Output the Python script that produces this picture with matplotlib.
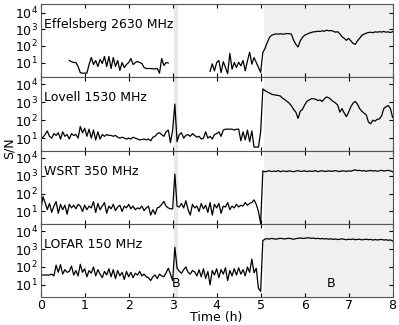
import numpy as np
import matplotlib
matplotlib.use("Agg")
import matplotlib.pyplot as plt

# log10(S/N) sampled every 0.05 h from 0 to 8 h (one row = 0.5 h)
nan = np.nan
effelsberg = [
    nan, nan, nan, nan, nan, nan, nan, nan, nan, nan,
    nan, nan, nan, 1.12, 1.05, 1.0, 1.0, 0.76, 0.39, 0.36,
    0.36, 0.36, 0.88, 1.3, 0.88, 1.12, 0.76, 1.18, 0.94, 1.36,
    0.76, 1.36, 0.64, 1.3, 0.76, 1.12, 0.52, 1.0, 0.7, 0.88,
    1.0, 1.24, 0.88, 1.0, 1.06, 1.0, 0.94, 0.7, 0.64, 0.64,
    0.64, 0.62, 0.62, 0.64, 0.36, 1.24, 0.82, 1.0, 0.97, nan,
    nan, nan, nan, nan, nan, nan, nan, nan, nan, nan,
    nan, nan, nan, nan, nan, nan, nan, 0.47, 0.92, 0.5,
    1.0, 1.12, 0.39, 1.05, 0.7, 0.33, 1.55, 0.6, 1.0, 0.7,
    1.02, 0.8, 1.12, 0.5, 1.1, 1.62, 0.9, 1.3, 1.0, 0.7,
    0.41, 1.6, 1.85, 2.2, 2.5, 2.64, 2.68, 2.72, 2.7, 2.73,
    2.7, 2.72, 2.74, 2.73, 2.7, 2.33, 2.1, 1.93, 2.3, 2.5,
    2.64, 2.7, 2.76, 2.8, 2.84, 2.85, 2.88, 2.86, 2.9, 2.88,
    2.94, 2.9, 2.92, 2.88, 2.82, 2.85, 2.72, 2.55, 2.45, 2.33,
    2.45, 2.3, 2.15, 2.09, 2.3, 2.45, 2.64, 2.7, 2.76, 2.8,
    2.82, 2.79, 2.84, 2.82, 2.85, 2.83, 2.86, 2.82, 2.84, 2.8,
    2.85]
lovell = [
    0.95, 1.05, 1.2, 1.4, 1.1, 1.0, 1.25, 1.15, 1.3, 0.95,
    1.35, 1.1, 1.2, 0.95, 1.25, 1.15, 1.2, 1.0, 1.65, 1.3,
    1.55, 1.1, 1.5, 1.0, 1.45, 0.9, 1.35, 0.95, 1.2, 1.1,
    1.2, 1.15, 1.15, 1.1, 1.15, 1.05, 1.0, 1.05, 1.0, 0.95,
    1.0, 0.95, 1.05, 1.0, 0.95, 0.9, 0.92, 0.95, 0.9, 0.95,
    0.85, 1.05, 1.1, 1.25, 1.3, 1.2, 1.1, 1.35, 1.45, 0.75,
    1.45, 2.9, 0.8, 1.2, 1.3, 1.0, 1.15, 1.2, 1.1, 1.25,
    1.15, 1.05, 1.1, 0.95, 1.0, 1.35, 1.0, 1.1, 0.95, 1.2,
    1.25, 1.35, 1.1, 1.45, 1.5, 1.5, 1.5, 1.5, 1.45, 1.5,
    1.5, 0.85, 1.35, 0.9, 1.45, 0.8, 1.4, 0.5, 0.5, 0.5,
    1.35, 3.75, 3.65, 3.58, 3.52, 3.45, 3.42, 3.4, 3.38, 3.35,
    3.22, 3.15, 3.05, 2.95, 2.8, 2.6, 2.45, 2.1, 2.5, 2.6,
    2.85, 3.05, 3.12, 3.2, 3.2, 3.17, 3.1, 3.13, 3.05, 3.2,
    3.3, 3.25, 3.15, 3.05, 2.97, 2.85, 2.45, 2.65, 2.4, 2.2,
    2.45, 2.75, 2.95, 3.05, 2.9, 2.65, 2.5, 2.4, 2.3, 1.9,
    1.8, 2.0, 1.95, 2.05, 2.07, 2.25, 2.65, 2.75, 2.82, 2.65,
    2.15]
wsrt = [
    1.0, 1.83, 1.5, 1.1, 1.45, 0.95, 1.3, 1.55, 0.9, 1.4,
    1.1, 1.35, 0.85, 1.4, 1.2, 1.35, 1.15, 1.4, 1.3, 1.0,
    1.35, 1.1, 1.3, 1.2, 1.55, 0.95, 1.45, 1.1, 1.3, 1.5,
    0.9, 1.3, 1.15, 1.4, 1.05, 1.25, 1.35, 1.0, 1.3, 1.2,
    1.4, 1.15, 1.3, 1.1, 1.2, 1.15, 1.3, 1.05, 1.2, 1.3,
    0.8, 1.1, 0.85, 1.2, 1.25, 1.4, 1.56, 1.3, 1.2, 1.15,
    1.15, 3.09, 1.3, 1.25, 1.45, 1.2, 1.6, 1.1, 0.8, 1.4,
    1.2, 1.3, 1.0, 1.45, 1.15, 1.35, 0.95, 1.5, 0.8, 1.4,
    1.2, 1.45, 0.9, 1.3, 1.25, 1.5, 1.1, 1.3, 1.2, 1.4,
    1.25, 1.35, 1.3, 1.5, 1.35, 1.45, 1.5, 1.65, 1.4, 1.0,
    0.33, 3.26, 3.22, 3.25, 3.27, 3.23, 3.25, 3.24, 3.28, 3.22,
    3.26, 3.25, 3.23, 3.27, 3.24, 3.22, 3.26, 3.28, 3.24, 3.25,
    3.27, 3.23, 3.26, 3.24, 3.25, 3.28, 3.22, 3.26, 3.27, 3.24,
    3.25, 3.27, 3.24, 3.26, 3.28, 3.25, 3.23, 3.27, 3.26, 3.24,
    3.27, 3.25, 3.29, 3.33, 3.28, 3.3, 3.26, 3.28, 3.25, 3.27,
    3.29, 3.26, 3.28, 3.25, 3.27, 3.3, 3.26, 3.28, 3.3, 3.27,
    3.22]
lofar = [
    1.55, 1.55, 1.55, 1.55, 1.55, 1.6, 1.5, 2.1, 1.7, 2.13,
    1.6, 1.85, 1.7, 1.75, 2.05, 1.55, 1.8, 1.5, 2.15, 1.7,
    1.9, 1.45, 1.8, 1.65, 2.0, 1.5, 1.85, 1.6, 1.4, 1.75,
    1.55, 1.9, 1.45, 1.85, 1.35, 1.8, 1.5, 1.7, 1.3, 1.75,
    1.45, 1.7, 1.4, 1.65, 1.55, 1.75, 1.5, 1.6, 1.45, 1.4,
    1.24, 1.45, 1.55, 1.35, 1.6, 1.5, 1.45, 1.67, 1.93, 1.6,
    1.24, 3.1, 1.93, 1.76, 1.65, 1.85, 2.0, 1.7, 1.6, 1.8,
    1.72, 1.5, 1.84, 1.45, 1.9, 1.35, 1.75, 1.0, 1.8, 1.55,
    1.9, 1.4, 1.85, 1.6, 1.95, 1.24, 1.8, 1.5, 1.9, 1.55,
    1.95, 1.6, 1.85, 1.5, 2.0, 1.7, 2.44, 1.67, 1.93, 0.81,
    0.64, 3.47, 3.56, 3.58, 3.55, 3.6, 3.57, 3.55, 3.58, 3.6,
    3.58, 3.56, 3.59, 3.6, 3.57, 3.55, 3.58, 3.6, 3.62, 3.59,
    3.6, 3.62, 3.63, 3.6, 3.61, 3.58, 3.6, 3.57, 3.59, 3.56,
    3.58, 3.55, 3.57, 3.54, 3.56, 3.53, 3.55, 3.57, 3.54, 3.52,
    3.55, 3.53, 3.56, 3.52, 3.54, 3.55, 3.51, 3.53, 3.55, 3.52,
    3.54, 3.5, 3.53, 3.51, 3.52, 3.54, 3.5, 3.52, 3.49, 3.51,
    3.45]

labels = ["Effelsberg 2630 MHz", "Lovell 1530 MHz", "WSRT 350 MHz", "LOFAR 150 MHz"]
series = [effelsberg, lovell, wsrt, lofar]
ylims = [(1.3, 3.3e4), (2.0, 2.5e4), (2.0, 2.5e4), (2.0, 2.5e4)]
b_short = (3.03, 3.13)
b_long = (5.08, 8.0)

t = np.arange(161) * 0.05

plt.rcParams['font.family'] = 'DejaVu Sans'
plt.rcParams['font.size'] = 9
fig, axes = plt.subplots(4, 1, sharex=True, figsize=(3.99, 3.25), dpi=100)
fig.subplots_adjust(left=0.102, right=0.984, bottom=0.085, top=0.988, hspace=0)

for ax, name, vals, yl in zip(axes, labels, series, ylims):
    ax.axvspan(b_short[0], b_short[1], color="#e8e8e8", lw=0, zorder=0)
    ax.axvspan(b_long[0], b_long[1], color="#f0f0f0", lw=0, zorder=0)
    ax.plot(t, 10 ** np.array(vals), color="k", lw=0.9)
    ax.set_yscale("log")
    ax.set_ylim(yl)
    ax.set_xlim(0, 8)
    ax.set_yticks([10, 100, 1000, 10000])
    ax.yaxis.set_minor_locator(matplotlib.ticker.NullLocator())
    ax.tick_params(direction="in", top=True, right=True, length=3, labelsize=9)
    ax.tick_params(axis="y", pad=2)
    ax.text(0.008, 0.72, name, transform=ax.transAxes, va="center", ha="left", fontsize=9)
    for s in ax.spines.values():
        s.set_color("#555555")

axes[-1].text(3.08, 12, "B", ha="center", va="center", fontsize=9)
axes[-1].text(6.6, 12, "B", ha="center", va="center", fontsize=9)
axes[-1].set_xticks(range(9))
axes[-1].tick_params(axis="x", pad=1.5)
axes[-1].set_xlabel("Time (h)", labelpad=-1)
fig.text(0.022, 0.545, "S/N", rotation=90, va="center", ha="center", fontsize=9)

fig.savefig("out.png", dpi=100)
